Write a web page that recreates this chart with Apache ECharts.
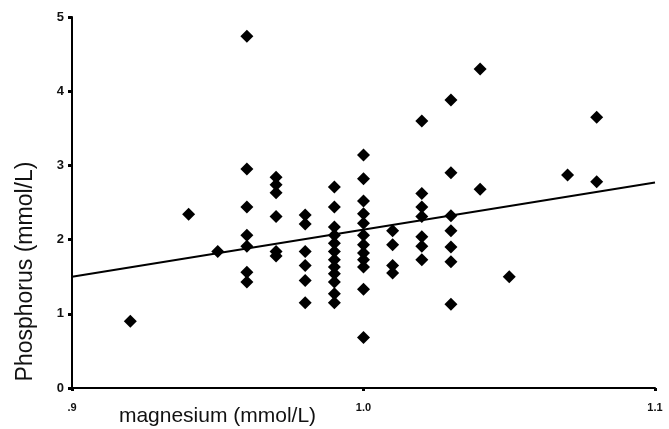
<!DOCTYPE html>
<html>
<head>
<meta charset="utf-8">
<script src="https://cdn.jsdelivr.net/npm/echarts@6/dist/echarts.min.js"></script>
</head>
<body style="margin:0;background:#fff">
<div id="chart" style="width:669px;height:429px"></div>
<script>
// magnesium (x) vs phosphorus (y)
var magnesium = [
  0.92, 0.94, 0.95,
  0.96, 0.96, 0.96, 0.96, 0.96, 0.96, 0.96,
  0.97, 0.97, 0.97, 0.97, 0.97, 0.97,
  0.98, 0.98, 0.98, 0.98, 0.98, 0.98,
  0.99, 0.99, 0.99, 0.99, 0.99, 0.99, 0.99, 0.99, 0.99, 0.99, 0.99, 0.99,
  1.00, 1.00, 1.00, 1.00, 1.00, 1.00, 1.00, 1.00, 1.00, 1.00, 1.00, 1.00,
  1.01, 1.01, 1.01, 1.01,
  1.02, 1.02, 1.02, 1.02, 1.02, 1.02, 1.02,
  1.03, 1.03, 1.03, 1.03, 1.03, 1.03, 1.03,
  1.04, 1.04, 1.05, 1.07, 1.08, 1.08
];
var phosphorus = [
  0.90, 2.34, 1.84,
  4.74, 2.95, 2.44, 2.06, 1.91, 1.56, 1.43,
  2.84, 2.74, 2.63, 2.31, 1.84, 1.78,
  2.33, 2.21, 1.84, 1.65, 1.45, 1.15,
  2.71, 2.44, 2.17, 2.06, 1.95, 1.84, 1.73, 1.63, 1.54, 1.43, 1.27, 1.15,
  3.14, 2.82, 2.52, 2.35, 2.22, 2.06, 1.93, 1.82, 1.73, 1.63, 1.33, 0.68,
  2.12, 1.93, 1.65, 1.55,
  3.60, 2.62, 2.44, 2.31, 2.04, 1.91, 1.73,
  3.88, 2.90, 2.32, 2.12, 1.90, 1.70, 1.13,
  4.30, 2.68, 1.50, 2.87, 3.65, 2.78
];
// fitted line end points
var lineX = [0.9, 1.1];
var lineY = [1.5, 2.77];
var xTicks = {0.9: '.9', 1: '1.0', 1.1: '1.1'};

var points = magnesium.map(function (m, i) { return [m, phosphorus[i]]; });
var fit = lineX.map(function (m, i) { return [m, lineY[i]]; });

var chart = echarts.init(document.getElementById('chart'));
chart.setOption({
  animation: false,
  backgroundColor: '#fff',
  grid: { left: 72, right: 14, top: 17, bottom: 41, outerBoundsMode: 'none' },
  xAxis: {
    type: 'value',
    min: 0.9,
    max: 1.1,
    interval: 0.1,
    name: 'magnesium (mmol/L)',
    nameLocation: 'middle',
    nameGap: 18,
    nameMoveOverlap: false,
    nameTextStyle: { fontFamily: 'Liberation Sans', fontSize: 21, color: '#111', padding: [0, 292, 0, 0] },
    splitLine: { show: false },
    axisLine: { lineStyle: { color: '#000', width: 2 } },
    axisTick: { length: 3, lineStyle: { color: '#000', width: 3 } },
    axisLabel: {
      fontFamily: 'Liberation Sans', fontSize: 11, fontWeight: 'bold', color: '#111', margin: 14,
      formatter: function (v) { return xTicks[Math.round(v * 10) / 10]; }
    }
  },
  yAxis: {
    type: 'value',
    min: 0,
    max: 5,
    interval: 1,
    name: 'Phosphorus (mmol/L)',
    nameLocation: 'middle',
    nameGap: 35,
    nameMoveOverlap: false,
    nameTextStyle: { fontFamily: 'Liberation Sans', fontSize: 23, color: '#111', padding: [0, 138, 0, 0] },
    splitLine: { show: false },
    axisLine: { show: true, lineStyle: { color: '#000', width: 2 } },
    axisTick: { show: true, length: 4, lineStyle: { color: '#000', width: 3 } },
    axisLabel: { fontFamily: 'Liberation Sans', fontSize: 13, fontWeight: 'bold', color: '#111', margin: 8 }
  },
  series: [
    {
      type: 'scatter',
      symbol: 'diamond',
      symbolSize: 13,
      itemStyle: { color: '#000', opacity: 1 },
      data: points
    },
    {
      type: 'line',
      symbol: 'none',
      lineStyle: { color: '#000', width: 2 },
      data: fit
    }
  ]
});
</script>
</body>
</html>
